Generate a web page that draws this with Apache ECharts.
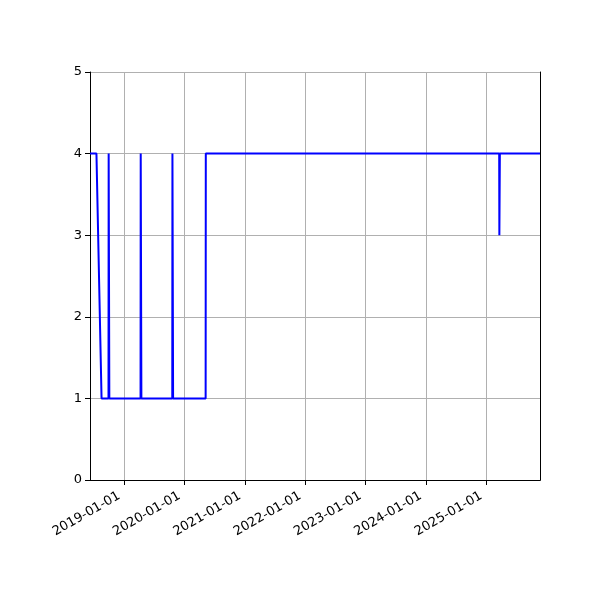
<!DOCTYPE html>
<html>
<head>
<meta charset="utf-8">
<script src="https://cdn.jsdelivr.net/npm/echarts@6/dist/echarts.min.js"></script>
<style>html,body{margin:0;padding:0;background:#fff}#c{width:600px;height:600px}</style>
</head>
<body>
<div id="c"></div>
<script>
const dates = [
  '2018-06-07','2018-07-16','2018-08-16','2018-09-27','2018-09-28','2018-10-01','2018-10-02',
  '2019-04-09','2019-04-10','2019-04-13','2019-04-14',
  '2019-10-18','2019-10-19','2019-10-22','2019-10-23',
  '2020-05-07','2020-05-08',
  '2025-03-19','2025-03-20','2025-03-22','2025-03-23',
  '2025-11-21'
];
const values = [
  4,4,1,1,4,4,1,
  1,4,4,1,
  1,4,4,1,
  1,4,
  4,3,3,4,
  4
];
const yTicks = [0,1,2,3,4,5];
const xMin = '2018-06-07';
const xMax = '2025-11-21';

const chart = echarts.init(document.getElementById('c'), null, {renderer:'canvas'});
const font = 'DejaVu Sans';
const frameAxis = {
  axisLine: {show: true, lineStyle: {color: '#000', width: 1}},
  axisTick: {show: false}, axisLabel: {show: false}, splitLine: {show: false}
};
chart.setOption({
  animation: false,
  grid: {left: 90, right: 60, top: 72, bottom: 120},
  xAxis: [{
    type: 'time',
    min: xMin, max: xMax,
    minInterval: 365*86400000, maxInterval: 366*86400000,
    axisLine: {show: true, lineStyle: {color: '#000', width: 1}},
    axisTick: {show: true, length: 5, lineStyle: {color: '#000'}},
    splitLine: {show: true, lineStyle: {color: '#b0b0b0', width: 1}},
    axisLabel: {rotate: 30, color: '#000', fontFamily: font, fontSize: 13, margin: 12, padding: [0, 6, 0, 0],
      formatter: '{yyyy}-{MM}-{dd}', hideOverlap: false, showMinLabel: false, showMaxLabel: false}
  }, Object.assign({type: 'time', min: xMin, max: xMax, position: 'top'}, frameAxis)],
  yAxis: [{
    type: 'value', min: yTicks[0], max: yTicks[yTicks.length-1], interval: 1,
    axisLine: {show: true, lineStyle: {color: '#000', width: 1}},
    axisTick: {show: true, length: 5, lineStyle: {color: '#000'}},
    splitLine: {show: true, lineStyle: {color: '#b0b0b0', width: 1}},
    axisLabel: {color: '#000', fontFamily: font, fontSize: 13, margin: 8}
  }, Object.assign({type: 'value', min: yTicks[0], max: yTicks[yTicks.length-1], position: 'right'}, frameAxis)],
  series: [{
    type: 'line',
    xAxisIndex: 0, yAxisIndex: 0,
    data: dates.map((d,i) => [d, values[i]]),
    showSymbol: false,
    lineStyle: {color: '#0000ff', width: 2},
    itemStyle: {color: '#0000ff'}
  }]
});
</script>
</body>
</html>
